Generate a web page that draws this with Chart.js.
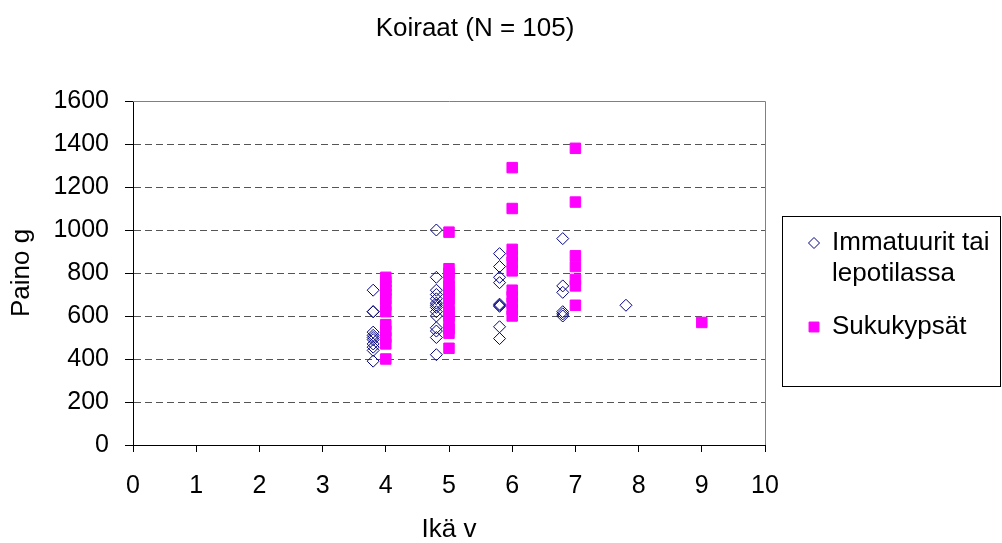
<!DOCTYPE html>
<html>
<head>
<meta charset="utf-8">
<title>Koiraat</title>
<script src="https://cdn.jsdelivr.net/npm/chart.js@4/dist/chart.umd.min.js"></script>
<style>
    body { margin: 0; background: #fff; }
    #wrapper { width: 1002px; height: 543px; }
</style>
</head>
<body>
<div id="wrapper"><canvas id="grafico" width="1002" height="543"></canvas></div>
<script>
"use strict"

// otsikko ja akselit
const otsikko = "Koiraat (N = 105)";
const xOtsikko = "Ikä v";
const yOtsikko = "Paino g";
const xTicks = [0, 1, 2, 3, 4, 5, 6, 7, 8, 9, 10];
const yTicks = [0, 200, 400, 600, 800, 1000, 1200, 1400, 1600];

// immatuurit tai lepotilassa: ikä ja painot sen iän kohdalla
const ikaImm = [3.8, 4.8, 5.8, 6.8, 7.8];
const painoImm = [
    [720, 620, 620, 525, 510, 500, 490, 470, 455, 440, 390],
    [1000, 780, 720, 700, 680, 660, 650, 640, 620, 600, 545, 530, 500, 420],
    [890, 830, 780, 755, 655, 650, 645, 550, 495],
    [960, 740, 710, 620, 610, 600],
    [650]
];

// sukukypsät
const ikaSuku = [4, 5, 6, 7, 9];
const painoSuku = [
    [780, 760, 740, 720, 700, 680, 650, 620, 560, 530, 500, 470, 400],
    [990, 820, 800, 770, 740, 720, 700, 680, 650, 620, 600, 570, 540, 520, 450],
    [1290, 1100, 910, 880, 850, 810, 720, 690, 660, 630, 600],
    [1380, 1130, 880, 830, 770, 740, 650],
    [570]
];

const sarjat = ["Immatuurit tai lepotilassa", "Sukukypsät"];
const legendaRivit = [["Immatuurit tai", "lepotilassa"], ["Sukukypsät"]];

function pisteet(iat, painot) {
    let out = [];
    for (let i = 0; i < iat.length; i++) {
        for (const p of painot[i]) {
            out.push({x: iat[i], y: p});
        }
    }
    return out;
}

const fontti = "'Liberation Sans', Arial, sans-serif";

// otsikko, kehys ja legenda piirretään itse
const omaPiirto = {
    id: "omaPiirto",
    beforeDatasetsDraw(chart) {
        const ctx = chart.ctx;
        const a = chart.chartArea;
        ctx.save();
        ctx.strokeStyle = "#808080";
        ctx.lineWidth = 1;
        ctx.beginPath();
        ctx.moveTo(a.left, a.top + 0.5);
        ctx.lineTo(a.right + 0.5, a.top + 0.5);
        ctx.lineTo(a.right + 0.5, a.bottom);
        ctx.stroke();
        ctx.restore();
    },
    afterDraw(chart) {
        const ctx = chart.ctx;
        ctx.save();
        ctx.fillStyle = "#000";
        ctx.font = "26px " + fontti;
        ctx.textAlign = "center";
        ctx.textBaseline = "middle";
        ctx.fillText(otsikko, 475, 29);

        // legendan laatikko
        ctx.strokeStyle = "#000";
        ctx.lineWidth = 1;
        ctx.strokeRect(782.5, 216.5, 218, 170);

        ctx.textAlign = "left";
        const rivinY = [[243, 274], [327]];
        chart.data.datasets.forEach(function (ds, i) {
            const style = {
                pointStyle: ds.pointStyle,
                rotation: 0,
                radius: i == 0 ? 5.5 : 7,
                borderWidth: ds.borderWidth
            };
            ctx.strokeStyle = ds.borderColor;
            ctx.fillStyle = ds.backgroundColor;
            ctx.lineWidth = ds.borderWidth;
            Chart.helpers.drawPoint(ctx, style, 814, rivinY[i][0]);
            ctx.fillStyle = "#000";
            legendaRivit[i].forEach(function (rivi, j) {
                ctx.fillText(rivi, 832, rivinY[i][j]);
            });
        });
        ctx.restore();
    }
};

let canvas = document.getElementById("grafico");
let chart = new Chart(canvas, {
    type: "scatter",
    data: {
        datasets: [{
            label: sarjat[0],
            data: pisteet(ikaImm, painoImm),
            pointStyle: "rectRot",
            pointRadius: 6,
            borderColor: "#000080",
            backgroundColor: "rgba(0,0,0,0)",
            borderWidth: 1
        }, {
            label: sarjat[1],
            data: pisteet(ikaSuku, painoSuku),
            pointStyle: "rect",
            pointRadius: 7.4,
            borderColor: "#FF00FF",
            backgroundColor: "#FF00FF",
            borderWidth: 1
        }]
    },
    options: {
        responsive: false,
        animation: false,
        devicePixelRatio: 1,
        layout: { padding: { top: 101, right: 237, bottom: 0, left: 0 } },
        plugins: {
            legend: { display: false },
            title: { display: false },
            tooltip: { enabled: false }
        },
        scales: {
            x: {
                type: "linear",
                min: xTicks[0],
                max: xTicks[xTicks.length - 1],
                afterBuildTicks: function (s) { s.ticks = xTicks.map(v => ({value: v})); },
                afterFit: function (s) { s.height = 98; },
                ticks: {
                    color: "#000", font: { size: 25, family: fontti }, padding: 19,
                    callback: v => String(v)
                },
                grid: { drawOnChartArea: false, tickLength: 7, tickColor: "#000" },
                border: { color: "#000", width: 1 },
                title: {
                    display: true, text: xOtsikko, color: "#000",
                    font: { size: 26, family: fontti, lineHeight: 1 },
                    padding: { top: 0, bottom: 0 }
                }
            },
            y: {
                min: yTicks[0],
                max: yTicks[yTicks.length - 1],
                afterBuildTicks: function (s) { s.ticks = yTicks.map(v => ({value: v})); },
                afterFit: function (s) { s.width = 133; },
                ticks: {
                    color: "#000", font: { size: 25, family: fontti }, padding: 16,
                    callback: v => String(v)
                },
                grid: {
                    tickLength: 8,
                    tickColor: "#000",
                    color: function (c) {
                        if (c.tick && (c.tick.value == 0 || c.tick.value == 1600)) return "rgba(0,0,0,0)";
                        return "#555";
                    }
                },
                border: { color: "#000", width: 1, dash: [7, 4] },
                title: {
                    display: true, text: yOtsikko, color: "#000",
                    font: { size: 26, family: fontti, lineHeight: 1 },
                    padding: { top: 9, bottom: 0 }
                }
            }
        }
    },
    plugins: [omaPiirto]
});
</script>
</body>
</html>
